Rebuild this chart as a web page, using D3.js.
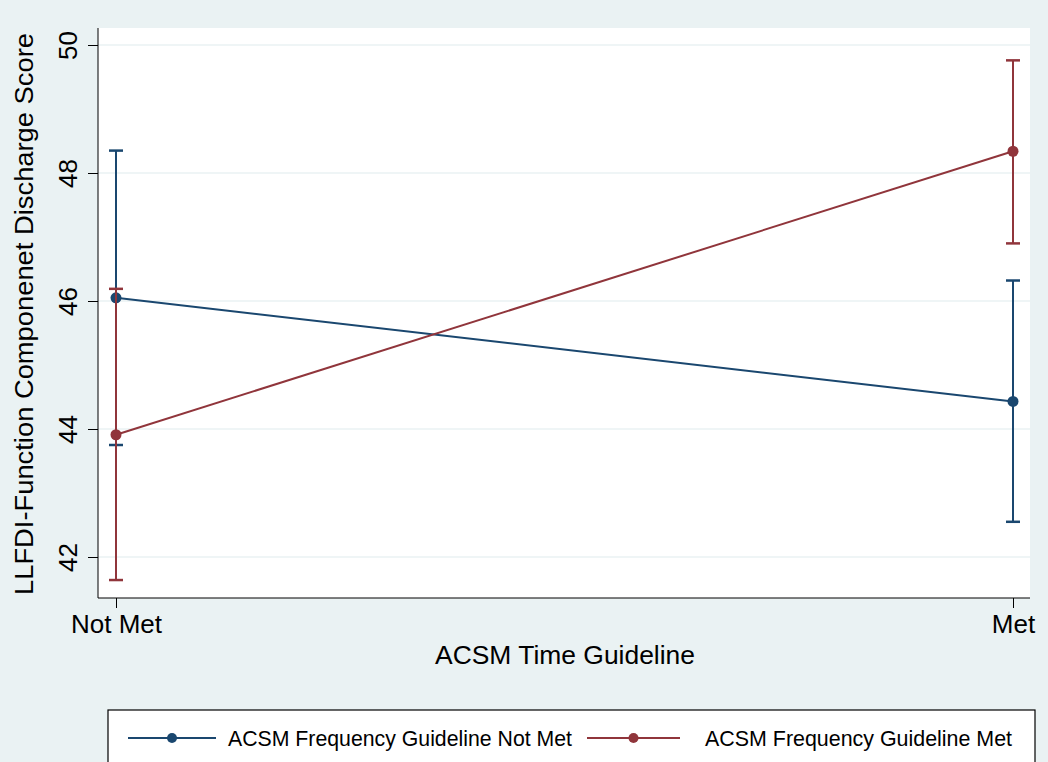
<!DOCTYPE html>
<html>
<head>
<meta charset="utf-8">
<script src="https://cdn.jsdelivr.net/npm/d3@7"></script>
<style>
  html, body { margin: 0; padding: 0; background: #eaf2f3; }
  svg { display: block; font-family: "Liberation Sans", Arial, sans-serif; }
</style>
</head>
<body>
<div id="container"></div>
<script>
// 数据：横轴分类、纵轴刻度、两条序列的均值和置信区间
const categories = ["Not Met", "Met"];
const yTicks = [42, 44, 46, 48, 50];
const seriesNames = ["ACSM Frequency Guideline Not Met", "ACSM Frequency Guideline Met"];
const notMetMean = [46.05, 44.43];
const notMetLow = [43.75, 42.55];
const notMetHigh = [48.35, 46.32];
const metMean = [43.91, 48.34];
const metLow = [41.64, 46.9];
const metHigh = [46.19, 49.76];

const colors = ["#1a476f", "#90353b"];
const width = 1048, height = 762;

const svg = d3.select("#container").append("svg")
  .attr("width", width).attr("height", height);

svg.append("rect").attr("width", width).attr("height", height).attr("fill", "#eaf2f3");

// 绘图区
const plot = { left: 98, right: 1030, top: 28, bottom: 598 };

const x = d3.scalePoint(categories, [116, 1013]);
const y = d3.scaleLinear([42, 50], [557, 45]);

svg.append("rect")
  .attr("x", plot.left).attr("y", plot.top)
  .attr("width", plot.right - plot.left).attr("height", plot.bottom - plot.top)
  .attr("fill", "#fff");

// 网格线
svg.append("g").selectAll("line").data(yTicks).join("line")
  .attr("x1", plot.left).attr("x2", plot.right)
  .attr("y1", d => y(d)).attr("y2", d => y(d))
  .attr("stroke", "#eaf2f3").attr("stroke-width", 1.5);

// 纵轴
const yAxis = svg.append("g")
  .attr("transform", `translate(${plot.left},0)`)
  .call(d3.axisLeft(y).tickValues(yTicks).tickSize(10));
yAxis.select(".domain").attr("d", `M0,${plot.top}V${plot.bottom}`).attr("stroke", "#000");
yAxis.selectAll(".tick line").attr("stroke", "#000");
yAxis.selectAll(".tick text")
  .attr("font-size", 26).attr("fill", "#000")
  .attr("text-anchor", "middle").attr("x", null).attr("dy", null)
  .attr("transform", "translate(-21,0) rotate(-90)");

// 横轴
const xAxis = svg.append("g")
  .attr("transform", `translate(0,${plot.bottom})`)
  .call(d3.axisBottom(x).tickSize(10));
xAxis.select(".domain").attr("d", `M${plot.left},0H${plot.right}`).attr("stroke", "#000");
xAxis.selectAll(".tick text")
  .attr("font-size", 26).attr("fill", "#000")
  .attr("dy", null).attr("y", 35);

// 轴标题
svg.append("text")
  .attr("transform", `translate(33,${(plot.top + plot.bottom) / 2 + 1}) rotate(-90)`)
  .attr("text-anchor", "middle")
  .attr("font-size", 26.5)
  .attr("textLength", 562).attr("lengthAdjust", "spacingAndGlyphs")
  .text("LLFDI-Function Componenet Discharge Score");

svg.append("text")
  .attr("x", 565).attr("y", 664)
  .attr("text-anchor", "middle").attr("font-size", 26)
  .attr("textLength", 260).attr("lengthAdjust", "spacingAndGlyphs")
  .text("ACSM Time Guideline");

// 序列
const series = [
  { mean: notMetMean, low: notMetLow, high: notMetHigh },
  { mean: metMean, low: metLow, high: metHigh }
];
const cap = 7;

series.forEach((s, k) => {
  const g = svg.append("g").attr("stroke", colors[k]).attr("fill", colors[k]);
  // 误差线
  categories.forEach((c, i) => {
    const cx = x(c);
    g.append("line").attr("x1", cx).attr("x2", cx)
      .attr("y1", y(s.low[i])).attr("y2", y(s.high[i])).attr("stroke-width", 2);
    [s.low[i], s.high[i]].forEach(v => {
      g.append("line").attr("x1", cx - cap).attr("x2", cx + cap)
        .attr("y1", y(v)).attr("y2", y(v)).attr("stroke-width", 2.5);
    });
  });
  g.append("path")
    .datum(categories.map((c, i) => [x(c), y(s.mean[i])]))
    .attr("fill", "none").attr("stroke-width", 2)
    .attr("d", d3.line());
  g.selectAll("circle").data(categories).join("circle")
    .attr("cx", c => x(c)).attr("cy", (c, i) => y(s.mean[i]))
    .attr("r", 5.5).attr("stroke", "none");
});

// 图例
const legend = svg.append("g");
legend.append("rect")
  .attr("x", 108).attr("y", 710).attr("width", 927).attr("height", 60)
  .attr("fill", "#fff").attr("stroke", "#000").attr("stroke-width", 1.2);

const legendItems = [
  { x1: 128, x2: 216, tx: 228, len: 344 },
  { x1: 587, x2: 680, tx: 705, len: 307 }
];
legendItems.forEach((it, k) => {
  const ly = 738;
  legend.append("line").attr("x1", it.x1).attr("x2", it.x2)
    .attr("y1", ly).attr("y2", ly).attr("stroke", colors[k]).attr("stroke-width", 2);
  legend.append("circle").attr("cx", (it.x1 + it.x2) / 2).attr("cy", ly)
    .attr("r", 5).attr("fill", colors[k]);
  legend.append("text").attr("x", it.tx).attr("y", 746)
    .attr("font-size", 22)
    .attr("textLength", it.len).attr("lengthAdjust", "spacingAndGlyphs")
    .text(seriesNames[k]);
});
</script>
</body>
</html>
